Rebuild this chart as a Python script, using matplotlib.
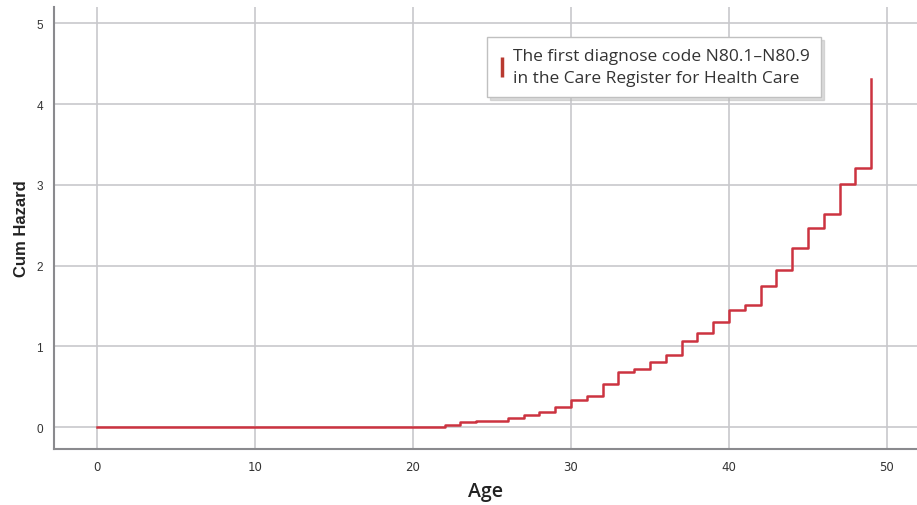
import matplotlib
matplotlib.use('Agg')
from matplotlib import pyplot as plt
from matplotlib.lines import Line2D

# step points of the cumulative hazard (age, cum hazard)
ages = [0, 22, 23, 24, 25, 26, 27, 28, 29, 30, 31, 32, 33, 34, 35, 36, 37,
        38, 39, 40, 41, 42, 43, 44, 45, 46, 47, 48, 49]
cum_hazard = [0, 0.02, 0.06, 0.07, 0.08, 0.11, 0.15, 0.19, 0.25, 0.33, 0.39,
              0.53, 0.68, 0.72, 0.81, 0.89, 1.06, 1.17, 1.30, 1.45, 1.51,
              1.75, 1.94, 2.22, 2.46, 2.64, 3.01, 3.21, 4.31]
x_ticks = [0, 10, 20, 30, 40, 50]
y_ticks = [0, 1, 2, 3, 4, 5]
legend_label = 'The first diagnose code N80.1\u2013N80.9\nin the Care Register for Health Care'

red = '#cc3340'
grid_col = '#c8c8cc'

fig = plt.figure(figsize=(9.17, 5.06), dpi=100)
ax = fig.add_axes([0.059, 0.111, 0.941, 0.873])

ax.step(ages, cum_hazard, where='post', color=red, linewidth=1.8, zorder=3)

ax.set_xlim(-2.72, 51.9)
ax.set_ylim(-0.27, 5.2)
ax.set_xticks(x_ticks)
ax.set_yticks(y_ticks)
ax.grid(True, color=grid_col, linewidth=1.2)
ax.set_axisbelow(True)

for side in ['top', 'right']:
    ax.spines[side].set_visible(False)
for side in ['left', 'bottom']:
    ax.spines[side].set_color('#8a8a8e')
    ax.spines[side].set_linewidth(1.5)

ax.tick_params(length=0, pad=8, labelcolor='#333333')
for lab in ax.get_yticklabels():
    lab.set_fontsize(8.5)
    lab.set_family('Liberation Sans')
for lab in ax.get_xticklabels():
    lab.set_fontsize(8.5)
    lab.set_family('Liberation Sans Narrow')

ax.set_ylabel('Cum Hazard', fontsize=12, fontweight='bold',
              family='Liberation Sans', color='#222222', labelpad=5)
ax.set_xlabel('Age', fontsize=14, fontweight='semibold', family='Open Sans',
              color='#222222', labelpad=6)

handle = Line2D([], [], color='#b83a30', marker='|', linestyle='None',
                markersize=15, markeredgewidth=2.5)
leg = ax.legend([handle], [legend_label], loc='upper left',
                bbox_to_anchor=(0.502, 0.932), borderaxespad=0,
                fancybox=False, shadow={'ox': 2, 'oy': -2, 'color': '#bbbbbb'},
                framealpha=1, edgecolor='#c0c0c0', handlelength=0.4,
                handletextpad=0.45, prop={'family': 'Open Sans', 'size': 12.5},
                borderpad=0.65)
leg.get_frame().set_linewidth(1.0)
for t in leg.get_texts():
    t.set_color('#333333')
    t.set_linespacing(1.45)

fig.savefig('out.png', dpi=100)
